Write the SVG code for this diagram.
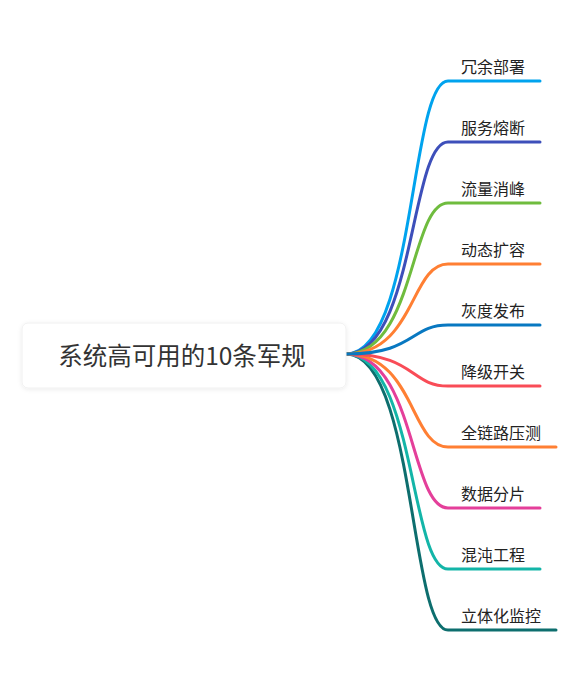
<svg xmlns="http://www.w3.org/2000/svg" width="578" height="682" viewBox="0 0 578 682">
<defs>
<filter id="sh" x="-10%" y="-30%" width="120%" height="160%">
<feDropShadow dx="0" dy="1" stdDeviation="2" flood-color="#000" flood-opacity="0.08"/>
</filter>
<style>
.lbl{font-family:"Noto Sans CJK SC","Noto Sans",sans-serif;font-size:16px;fill:#222}
.root{font-family:"Noto Sans CJK SC","Noto Sans",sans-serif;font-size:24.5px;fill:#333}
.c{fill:none;stroke-width:3;stroke-linecap:round}
</style>
</defs>
<rect width="578" height="682" fill="#fff"/>
<g id="connectors">
<path class="c" stroke="#0d6e6e" d="M346,354 C415,354 410,630 448,630 L556,630"/>
<path class="c" stroke="#13b5a8" d="M346,354 C415,354 410,569 448,569 L540,569"/>
<path class="c" stroke="#e43f9a" d="M346,354 C415,354 410,508 448,508 L540,508"/>
<path class="c" stroke="#ff7f33" d="M346,354 C415,354 410,447 448,447 L556,447"/>
<path class="c" stroke="#f94c57" d="M346,354 C415,354 410,386 448,386 L540,386"/>
<path class="c" stroke="#00a3ee" d="M346,354 C415,354 410,81 448,81 L540,81"/>
<path class="c" stroke="#3d4fba" d="M346,354 C415,354 410,142 448,142 L540,142"/>
<path class="c" stroke="#6fbc3e" d="M346,354 C415,354 410,203 448,203 L540,203"/>
<path class="c" stroke="#ff7f33" d="M346,354 C415,354 410,264 448,264 L540,264"/>
<path class="c" stroke="#0878c1" d="M346,354 C415,354 410,325 448,325 L540,325"/>
</g>
<g id="root">
<rect x="22" y="323" width="324" height="65" rx="6" fill="#fff" stroke="#f0f0f0" filter="url(#sh)"/>
<text class="root" x="182" y="365" text-anchor="middle">系统高可用的10条军规</text>
</g>
<g id="n1"><text class="lbl" x="461" y="73">冗余部署</text></g>
<g id="n2"><text class="lbl" x="461" y="134">服务熔断</text></g>
<g id="n3"><text class="lbl" x="461" y="195">流量消峰</text></g>
<g id="n4"><text class="lbl" x="461" y="256">动态扩容</text></g>
<g id="n5"><text class="lbl" x="461" y="317">灰度发布</text></g>
<g id="n6"><text class="lbl" x="461" y="378">降级开关</text></g>
<g id="n7"><text class="lbl" x="461" y="439">全链路压测</text></g>
<g id="n8"><text class="lbl" x="461" y="500">数据分片</text></g>
<g id="n9"><text class="lbl" x="461" y="561">混沌工程</text></g>
<g id="n10"><text class="lbl" x="461" y="622">立体化监控</text></g>
</svg>
